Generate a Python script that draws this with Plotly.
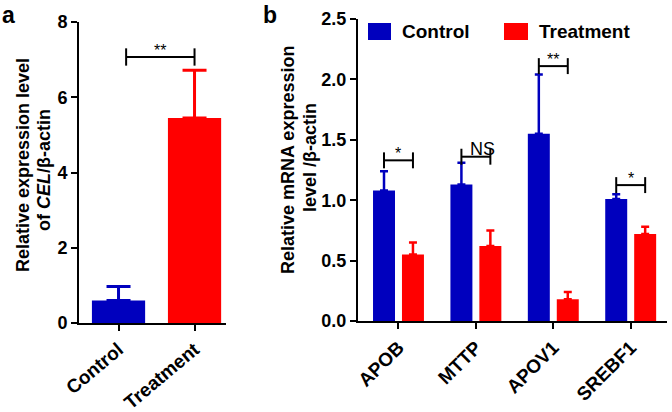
import plotly.graph_objects as go

# ---------------- data ----------------
a_groups = ["Control", "Treatment"]
a_means = [0.60, 5.45]
a_upper = [0.97, 6.72]          # top of error bar
a_sig_label = "**"
a_sig_y = 7.07

b_genes = ["APOB", "MTTP", "APOV1", "SREBF1"]
b_control = [1.08, 1.13, 1.55, 1.01]
b_control_upper = [1.24, 1.31, 2.04, 1.05]
b_treat = [0.55, 0.62, 0.18, 0.72]
b_treat_upper = [0.65, 0.75, 0.24, 0.78]
b_sig_labels = ["*", "NS", "**", "*"]
b_sig_y = [1.33, 1.36, 2.11, 1.125]

BLUE = "#0000BE"
RED = "#FF0000"
FONT = "Liberation Sans, Arial, sans-serif"
W, H = 672, 412


def px(x):
    return x / W


def py(y):
    return 1 - y / H


fig = go.Figure()

# ---------- panel a ----------
fig.add_trace(go.Bar(
    x=[a_groups[0]], y=[a_means[0]], width=0.70,
    marker=dict(color=BLUE, line=dict(width=0)),
    error_y=dict(type="data", symmetric=False,
                 array=[a_upper[0] - a_means[0]], arrayminus=[0],
                 color=BLUE, thickness=3, width=12),
    xaxis="x", yaxis="y", showlegend=False))
fig.add_trace(go.Bar(
    x=[a_groups[1]], y=[a_means[1]], width=0.70,
    marker=dict(color=RED, line=dict(width=0)),
    error_y=dict(type="data", symmetric=False,
                 array=[a_upper[1] - a_means[1]], arrayminus=[0],
                 color=RED, thickness=3, width=12),
    xaxis="x", yaxis="y", showlegend=False))

# ---------- panel b ----------
bw = 0.284
half = 0.187
fig.add_trace(go.Bar(
    name="Control", x=b_genes, y=b_control, width=bw, offset=-half - bw / 2,
    marker=dict(color=BLUE, line=dict(width=0)),
    error_y=dict(type="data", symmetric=False,
                 array=[u - m for u, m in zip(b_control_upper, b_control)],
                 arrayminus=[0] * 4, color=BLUE, thickness=2.5, width=4),
    xaxis="x2", yaxis="y2", showlegend=False))
fig.add_trace(go.Bar(
    name="Treatment", x=b_genes, y=b_treat, width=bw, offset=half - bw / 2,
    marker=dict(color=RED, line=dict(width=0)),
    error_y=dict(type="data", symmetric=False,
                 array=[u - m for u, m in zip(b_treat_upper, b_treat)],
                 arrayminus=[0] * 4, color=RED, thickness=2.5, width=4),
    xaxis="x2", yaxis="y2", showlegend=False))

shapes = []
annotations = []

# significance bracket panel a
ax0, ax1 = 0.10, 1.0
th = 0.23
shapes.append(dict(type="line", xref="x", yref="y", x0=ax0, x1=ax1, y0=a_sig_y, y1=a_sig_y,
                   line=dict(color="black", width=2)))
for xx in (ax0, ax1):
    shapes.append(dict(type="line", xref="x", yref="y", x0=xx, x1=xx,
                       y0=a_sig_y - th, y1=a_sig_y + th, line=dict(color="black", width=2)))
annotations.append(dict(xref="x", yref="y", x=(ax0 + ax1) / 2, y=a_sig_y, text=a_sig_label,
                        showarrow=False, yanchor="bottom", yshift=-4,
                        font=dict(family=FONT, size=16, color="black")))

# significance brackets panel b
tb = 0.066
for i, (lab, yy) in enumerate(zip(b_sig_labels, b_sig_y)):
    x0 = i - half
    x1 = i + half
    shapes.append(dict(type="line", xref="x2", yref="y2", x0=x0, x1=x1, y0=yy, y1=yy,
                       line=dict(color="black", width=2)))
    for xx in (x0, x1):
        shapes.append(dict(type="line", xref="x2", yref="y2", x0=xx, x1=xx,
                           y0=yy - tb, y1=yy + tb, line=dict(color="black", width=2)))
    if lab == "NS":
        annotations.append(dict(xref="x2", yref="y2", x=i + 0.08, y=yy, text=lab,
                                showarrow=False, yanchor="bottom", yshift=-4,
                                font=dict(family=FONT, size=18, color="black")))
    else:
        annotations.append(dict(xref="x2", yref="y2", x=i, y=yy, text=lab,
                                showarrow=False, yanchor="bottom", yshift=-4,
                                font=dict(family=FONT, size=16, color="black")))

# custom legend (panel b)
for (x0, x1, col, lab, tx) in [(368, 391, BLUE, "Control", 400), (504, 528, RED, "Treatment", 537)]:
    shapes.append(dict(type="rect", xref="paper", yref="paper",
                       x0=px(x0), x1=px(x1), y0=py(40), y1=py(23),
                       fillcolor=col, line=dict(width=0)))
    annotations.append(dict(xref="paper", yref="paper", x=px(tx), y=py(31.5), text="<b>%s</b>" % lab,
                            showarrow=False, xanchor="left", yanchor="middle",
                            font=dict(family=FONT, size=19, color="black")))

# axis titles (two lines each)
title_font = dict(family=FONT, size=18, color="black")
for (x, y, t) in [(23, 165, "<b>Relative expression level</b>"),
                  (44, 170, "<b>of <i>CEL</i>/β-actin</b>"),
                  (288, 160, "<b>Relative mRNA expression</b>"),
                  (310, 158, "<b>level /β-actin</b>")]:
    annotations.append(dict(xref="paper", yref="paper", x=px(x), y=py(y), text=t,
                            textangle=-90, showarrow=False, xanchor="center", yanchor="middle",
                            font=title_font))

# panel letters
for (x, t) in [(0, "a"), (261, "b")]:
    annotations.append(dict(xref="paper", yref="paper", x=px(x), y=py(0), text="<b>%s</b>" % t,
                            showarrow=False, xanchor="left", yanchor="top",
                            font=dict(family=FONT, size=23, color="black")))

axis_common = dict(showline=True, linecolor="black", linewidth=2, ticks="outside",
                   ticklen=6, tickwidth=2, tickcolor="black", showgrid=False,
                   zeroline=False, automargin=False)
ytickfont = dict(family=FONT, size=18, color="black")
xtickfont = dict(family=FONT, size=19, color="black")

fig.update_layout(
    width=W, height=H,
    margin=dict(l=0, r=0, t=0, b=0),
    paper_bgcolor="white", plot_bgcolor="white",
    barmode="overlay",
    font=dict(family=FONT, color="black"),
    xaxis=dict(domain=[px(79), px(226)], range=[-0.52, 1.414], anchor="y",
               tickangle=-40, tickvals=a_groups, tickfont=xtickfont,
               ticktext=["<b>%s</b>" % g for g in a_groups], **axis_common),
    yaxis=dict(domain=[py(323), py(22)], range=[0, 8], anchor="x", tickfont=ytickfont,
               tickvals=[0, 2, 4, 6, 8], ticktext=["<b>%d</b>" % v for v in [0, 2, 4, 6, 8]],
               **axis_common),
    xaxis2=dict(domain=[px(358), px(667)], range=[-0.523, 3.469], anchor="y2",
                tickangle=-45, tickvals=b_genes, tickfont=xtickfont,
                ticktext=["<b>%s</b>" % g for g in b_genes], **axis_common),
    yaxis2=dict(domain=[py(321), py(19)], range=[0, 2.5], anchor="x2", tickfont=ytickfont,
                tickvals=[0, 0.5, 1.0, 1.5, 2.0, 2.5],
                ticktext=["<b>%.1f</b>" % v for v in [0, 0.5, 1.0, 1.5, 2.0, 2.5]],
                **axis_common),
    shapes=shapes,
    annotations=annotations,
)

fig.write_html("out.html", config={"displayModeBar": False},
               post_script="document.body.style.margin='0';document.body.style.overflow='hidden';")
